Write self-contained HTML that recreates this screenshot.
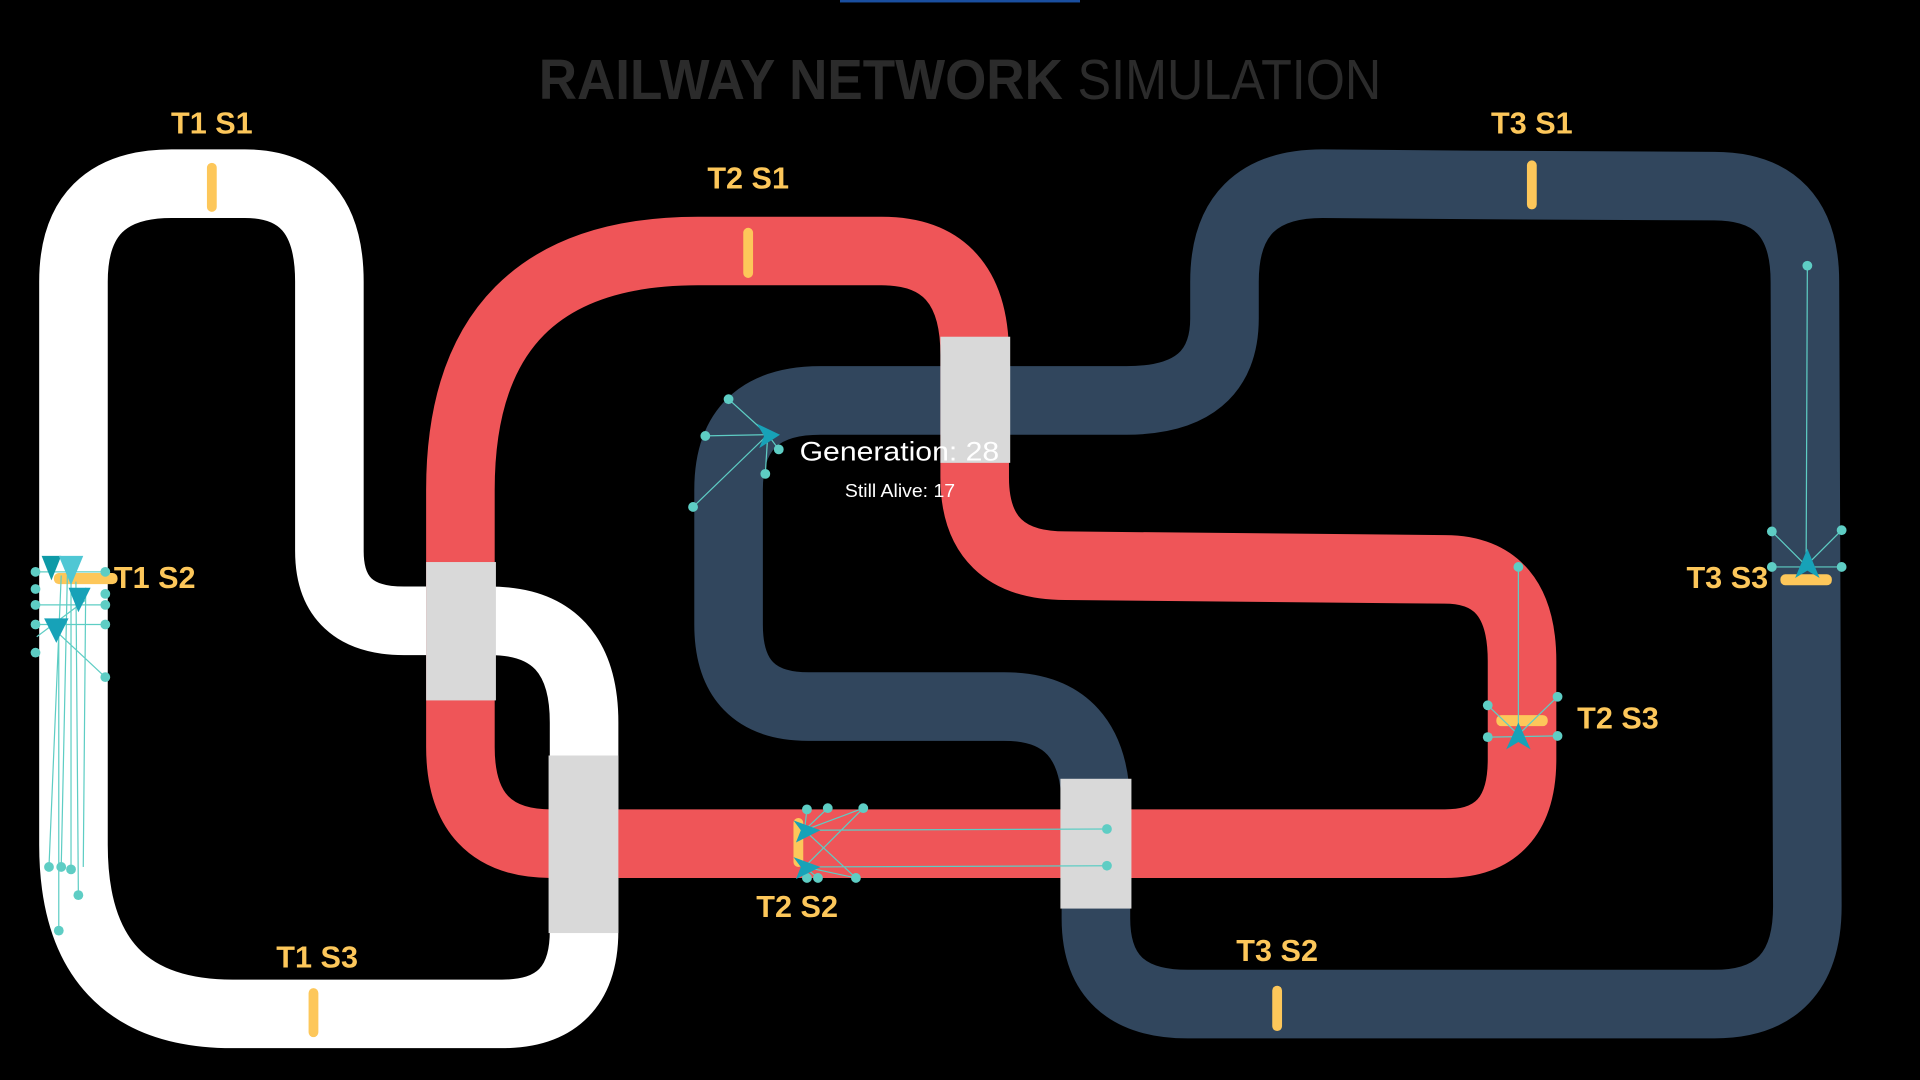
<!DOCTYPE html>
<html><head><meta charset="utf-8"><style>
html,body{margin:0;padding:0;background:#000;width:1920px;height:1080px;overflow:hidden}
svg{display:block}
.lbl{font-family:"Liberation Sans",sans-serif;font-weight:bold;font-size:25px;fill:#fdc75a}
</style></head><body>
<svg width="1920" height="1080" viewBox="0 0 1568 882" xmlns="http://www.w3.org/2000/svg">
<rect x="686" y="0" width="196" height="2" fill="#1a4fa0"/>
<g font-family="Liberation Sans, sans-serif" fill="#2b2b2b">
<text x="440" y="81" font-size="46" font-weight="bold" textLength="428" lengthAdjust="spacingAndGlyphs">RAILWAY NETWORK</text>
<text x="880" y="81" font-size="46" textLength="248" lengthAdjust="spacingAndGlyphs">SIMULATION</text>
</g>
<g fill="none" stroke-width="56" stroke-linejoin="round">
<path stroke="#ffffff" d="M60,400 L60,230 Q60,150 140,150 L200,150 Q269,150 269,230 L269,450 Q269,507 330,507 L400,507 Q477,507 477,590 L477,760 Q477,828 410,828 L190,828 Q60,828 60,690 Z"/>
<path stroke="#31465d" d="M1200,151 L1400,152 Q1474,152 1474,230 L1476,740 Q1476,820 1400,820 L970,820 Q895,820 895,750 L895,660 Q895,577 820,577 L660,577 Q595,577 595,510 L595,400 Q595,327 670,327 L920,327 Q1000,327 1000,260 L1000,230 Q1000,150 1080,150 Z"/>
<path stroke="#ef5558" d="M376,500 L376,400 Q376,205 570,205 L720,205 Q796,205 796,290 L796,390 Q796,462 870,462 L1180,465 Q1243,465 1243,540 L1243,620 Q1243,689 1180,689 L450,689 Q376,689 376,610 Z"/>
</g>
<g fill="#d9d9d9">
<rect x="348" y="459" width="57" height="113"/>
<rect x="448" y="617" width="57" height="145"/>
<rect x="768" y="275" width="57" height="103"/>
<rect x="866" y="636" width="58" height="106"/>
</g>
<g fill="#fdc75a">
<rect x="169" y="133" width="8" height="40" rx="4"/>
<rect x="607" y="186" width="8" height="41" rx="4"/>
<rect x="1247" y="131" width="8" height="40" rx="4"/>
<rect x="252" y="807" width="8" height="40" rx="4"/>
<rect x="1039" y="805" width="8" height="37" rx="4"/>
<rect x="648" y="668" width="8" height="40" rx="4"/>
<rect x="44" y="468" width="52" height="9" rx="4"/>
<rect x="1222" y="584" width="42" height="9" rx="4"/>
<rect x="1454" y="469" width="42" height="9" rx="4"/>
</g>
<g class="lbl">
<text class="lbl" x="173" y="109" text-anchor="middle">T1 S1</text>
<text class="lbl" x="611" y="154" text-anchor="middle">T2 S1</text>
<text class="lbl" x="1251" y="109" text-anchor="middle">T3 S1</text>
<text class="lbl" x="93" y="480">T1 S2</text>
<text class="lbl" x="1288" y="595">T2 S3</text>
<text class="lbl" x="1444" y="480" text-anchor="end">T3 S3</text>
<text class="lbl" x="651" y="749" text-anchor="middle">T2 S2</text>
<text class="lbl" x="259" y="790" text-anchor="middle">T1 S3</text>
<text class="lbl" x="1043" y="785" text-anchor="middle">T3 S2</text>
</g>
<g stroke="#5ecdc4" stroke-width="1" fill="none">
<path d="M627,355 L595,326 M627,355 L576,356 M627,355 L566,414 M627,355 L625,387 M627,355 L636,367"/>
<path d="M1475,462 L1476,217 M1475,462 L1447,434 M1475,462 L1504,433 M1447,463 L1504,463"/>
<path d="M1240,600 L1240,463 M1240,600 L1215,576 M1240,600 L1272,569 M1215,602 L1272,601"/>
<path d="M657,678 L659,661 M657,678 L676,660 M657,678 L705,660 M657,678 L904,677 M657,708 L904,707 M657,708 L699,717 M657,708 L668,717 M657,678 L699,717 M657,708 L705,660"/>
<path d="M29,467 L86,467 M29,494 L86,494 M29,510 L86,510 M50,470 L40,708 M55,470 L50,708 M58,475 L58,710 M62,475 L64,731 M48,520 L48,760 M70,480 L68,708 M40,510 L86,553 M30,520 L70,490"/>
</g>
<g fill="#5ecdc4">
<circle cx="595" cy="326" r="4"/><circle cx="576" cy="356" r="4"/><circle cx="566" cy="414" r="4"/><circle cx="625" cy="387" r="4"/><circle cx="636" cy="367" r="4"/>
<circle cx="1476" cy="217" r="4"/><circle cx="1447" cy="434" r="4"/><circle cx="1504" cy="433" r="4"/><circle cx="1447" cy="463" r="4"/><circle cx="1504" cy="463" r="4"/>
<circle cx="1240" cy="463" r="4"/><circle cx="1215" cy="576" r="4"/><circle cx="1272" cy="569" r="4"/><circle cx="1215" cy="602" r="4"/><circle cx="1272" cy="601" r="4"/>
<circle cx="659" cy="661" r="4"/><circle cx="676" cy="660" r="4"/><circle cx="705" cy="660" r="4"/><circle cx="904" cy="677" r="4"/><circle cx="904" cy="707" r="4"/><circle cx="699" cy="717" r="4"/><circle cx="668" cy="717" r="4"/><circle cx="659" cy="717" r="4"/>
<circle cx="29" cy="467" r="4"/><circle cx="86" cy="467" r="4"/><circle cx="29" cy="481" r="4"/><circle cx="29" cy="494" r="4"/><circle cx="86" cy="494" r="4"/><circle cx="29" cy="510" r="4"/><circle cx="86" cy="510" r="4"/><circle cx="29" cy="533" r="4"/><circle cx="86" cy="553" r="4"/><circle cx="86" cy="485" r="4"/>
<circle cx="40" cy="708" r="4"/><circle cx="50" cy="708" r="4"/><circle cx="58" cy="710" r="4"/><circle cx="64" cy="731" r="4"/><circle cx="48" cy="760" r="4"/>
</g>
<g>
<polygon points="618,346 637,355 620,366 624,356" fill="#17a2b8"/>
<polygon points="1466,472 1476,448 1486,472 1476,466" fill="#17a2b8"/>
<polygon points="1230,612 1240,590 1250,612 1240,606" fill="#17a2b8"/>
<polygon points="648,670 670,678 650,688 654,678" fill="#17a2b8"/>
<polygon points="648,700 670,708 650,718 654,708" fill="#17a2b8"/>
<polygon points="34,454 50,454 42,474" fill="#0e9aa7"/>
<polygon points="48,454 68,454 58,478" fill="#4fc7d4"/>
<polygon points="56,480 74,480 64,500" fill="#17a2b8"/>
<polygon points="36,505 56,505 46,525" fill="#17a2b8"/>
</g>
<text x="653" y="376" font-family="Liberation Sans, sans-serif" font-size="22" fill="#ffffff" textLength="163" lengthAdjust="spacingAndGlyphs">Generation: 28</text>
<text x="690" y="406" font-family="Liberation Sans, sans-serif" font-size="15" fill="#ffffff" textLength="90" lengthAdjust="spacingAndGlyphs">Still Alive: 17</text>
</svg>
</body></html>
